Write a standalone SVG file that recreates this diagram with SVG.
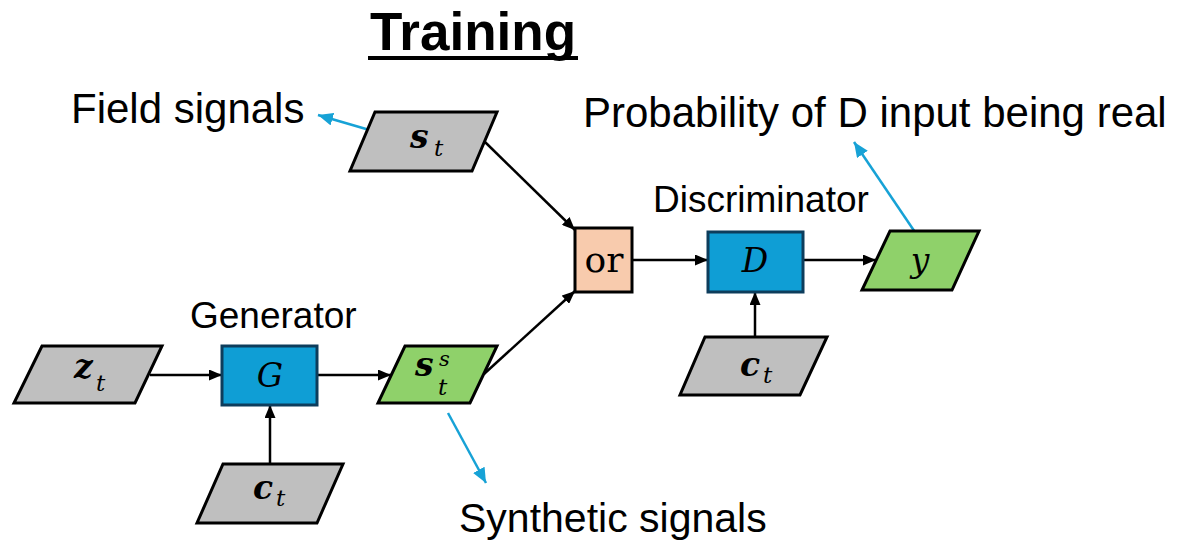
<svg xmlns="http://www.w3.org/2000/svg" width="1179" height="545" viewBox="0 0 1179 545">
<style>
.lbl{font-family:"Liberation Sans",Arial,sans-serif;fill:#000}
.io{stroke:#000;stroke-width:3;stroke-linejoin:miter}
.gray{fill:#bfbfbf}
.green{fill:#8fd16a}
.blk{fill:#0f9ed5;stroke:#0d3d5c;stroke-width:3}
.m{font-family:"DejaVu Serif","Liberation Serif",serif;fill:#000}
.mb{font-weight:bold;font-style:italic}
.mi{font-style:italic}
.conn{stroke:#000;stroke-width:2.5;fill:none}
.call{stroke:#17a2d6;stroke-width:2.5;fill:none}
</style>
<defs>
<marker id="ah" viewBox="0 0 13 11" refX="13" refY="5.5" markerWidth="13" markerHeight="11" markerUnits="userSpaceOnUse" orient="auto">
<path d="M0,0 L13,5.5 L0,11 Z" fill="#000"/>
</marker>
<marker id="ahb" viewBox="0 0 15 13" refX="15" refY="6.5" markerWidth="15" markerHeight="13" markerUnits="userSpaceOnUse" orient="auto">
<path d="M0,0 L15,6.5 L0,13 Z" fill="#17a2d6"/>
</marker>
</defs>
<rect width="1179" height="545" fill="#fff"/>

<g id="title">
<text class="lbl" x="473" y="50" font-size="53" font-weight="bold" text-anchor="middle">Training</text>
<rect x="368" y="56" width="210" height="4" fill="#000"/>
</g>

<g id="labels">
<text class="lbl" x="71" y="123" font-size="42">Field signals</text>
<text class="lbl" x="583" y="127" font-size="42">Probability of D input being real</text>
<text class="lbl" x="653" y="212" font-size="37">Discriminator</text>
<text class="lbl" x="190" y="328" font-size="37">Generator</text>
<text class="lbl" x="459" y="532" font-size="41">Synthetic signals</text>
</g>

<g id="connectors">
<line class="conn" x1="150" y1="375" x2="222" y2="375" marker-end="url(#ah)"/>
<line class="conn" x1="317" y1="375" x2="391" y2="375" marker-end="url(#ah)"/>
<line class="conn" x1="270" y1="464" x2="270" y2="405" marker-end="url(#ah)"/>
<line class="conn" x1="484" y1="374" x2="575" y2="291" marker-end="url(#ah)"/>
<line class="conn" x1="485" y1="142" x2="575" y2="230" marker-end="url(#ah)"/>
<line class="conn" x1="632" y1="260" x2="708" y2="260" marker-end="url(#ah)"/>
<line class="conn" x1="803" y1="260" x2="876" y2="260" marker-end="url(#ah)"/>
<line class="conn" x1="755" y1="337" x2="755" y2="292" marker-end="url(#ah)"/>
<line class="call" x1="397" y1="138" x2="318" y2="115" marker-end="url(#ahb)"/>
<line class="call" x1="448" y1="413" x2="486" y2="483" marker-end="url(#ahb)"/>
<line class="call" x1="921" y1="241" x2="854" y2="142" marker-end="url(#ahb)"/>
</g>

<g id="node-st">
<polygon class="io gray" points="375,112 497,112 472,171 350,171"/>
<text class="m mb" x="410" y="148" font-size="33">s</text>
<text class="m mi" x="434" y="156" font-size="23">t</text>
</g>

<g id="node-zt">
<polygon class="io gray" points="42,346 162,346 135,403 14,403"/>
<text class="m mb" x="74" y="378" font-size="33">z</text>
<text class="m mi" x="96" y="391" font-size="23">t</text>
</g>

<g id="node-G">
<rect class="blk" x="222" y="346" width="95" height="59"/>
<text class="m mi" x="270" y="387" font-size="33" text-anchor="middle">G</text>
</g>

<g id="node-ct-G">
<polygon class="io gray" points="223,464 343,464 317,523 197,523"/>
<text class="m mb" x="253" y="499" font-size="33">c</text>
<text class="m mi" x="276" y="506" font-size="23">t</text>
</g>

<g id="node-sts">
<polygon class="io green" points="405,346 497,346 470,403 378,403"/>
<text class="m mb" x="415" y="376" font-size="33">s</text>
<text class="m mi" x="439" y="366" font-size="21">s</text>
<text class="m mi" x="438" y="395" font-size="23">t</text>
</g>

<g id="node-or">
<rect x="575" y="228" width="57" height="64" fill="#f8cbad" stroke="#000" stroke-width="3"/>
<text class="m" x="604" y="272" font-size="36" text-anchor="middle" font-family="Liberation Serif,serif">or</text>
</g>

<g id="node-D">
<rect class="blk" x="708" y="232" width="95" height="60"/>
<text class="m mi" x="755" y="272" font-size="33" text-anchor="middle">D</text>
</g>

<g id="node-ct-D">
<polygon class="io gray" points="705,337 827,337 800,395 680,395"/>
<text class="m mb" x="740" y="376" font-size="33">c</text>
<text class="m mi" x="763" y="383" font-size="23">t</text>
</g>

<g id="node-y">
<polygon class="io green" points="890,231 979,231 952,290 862,290"/>
<text class="m mi" x="920" y="272" font-size="33" text-anchor="middle">y</text>
</g>
</svg>
